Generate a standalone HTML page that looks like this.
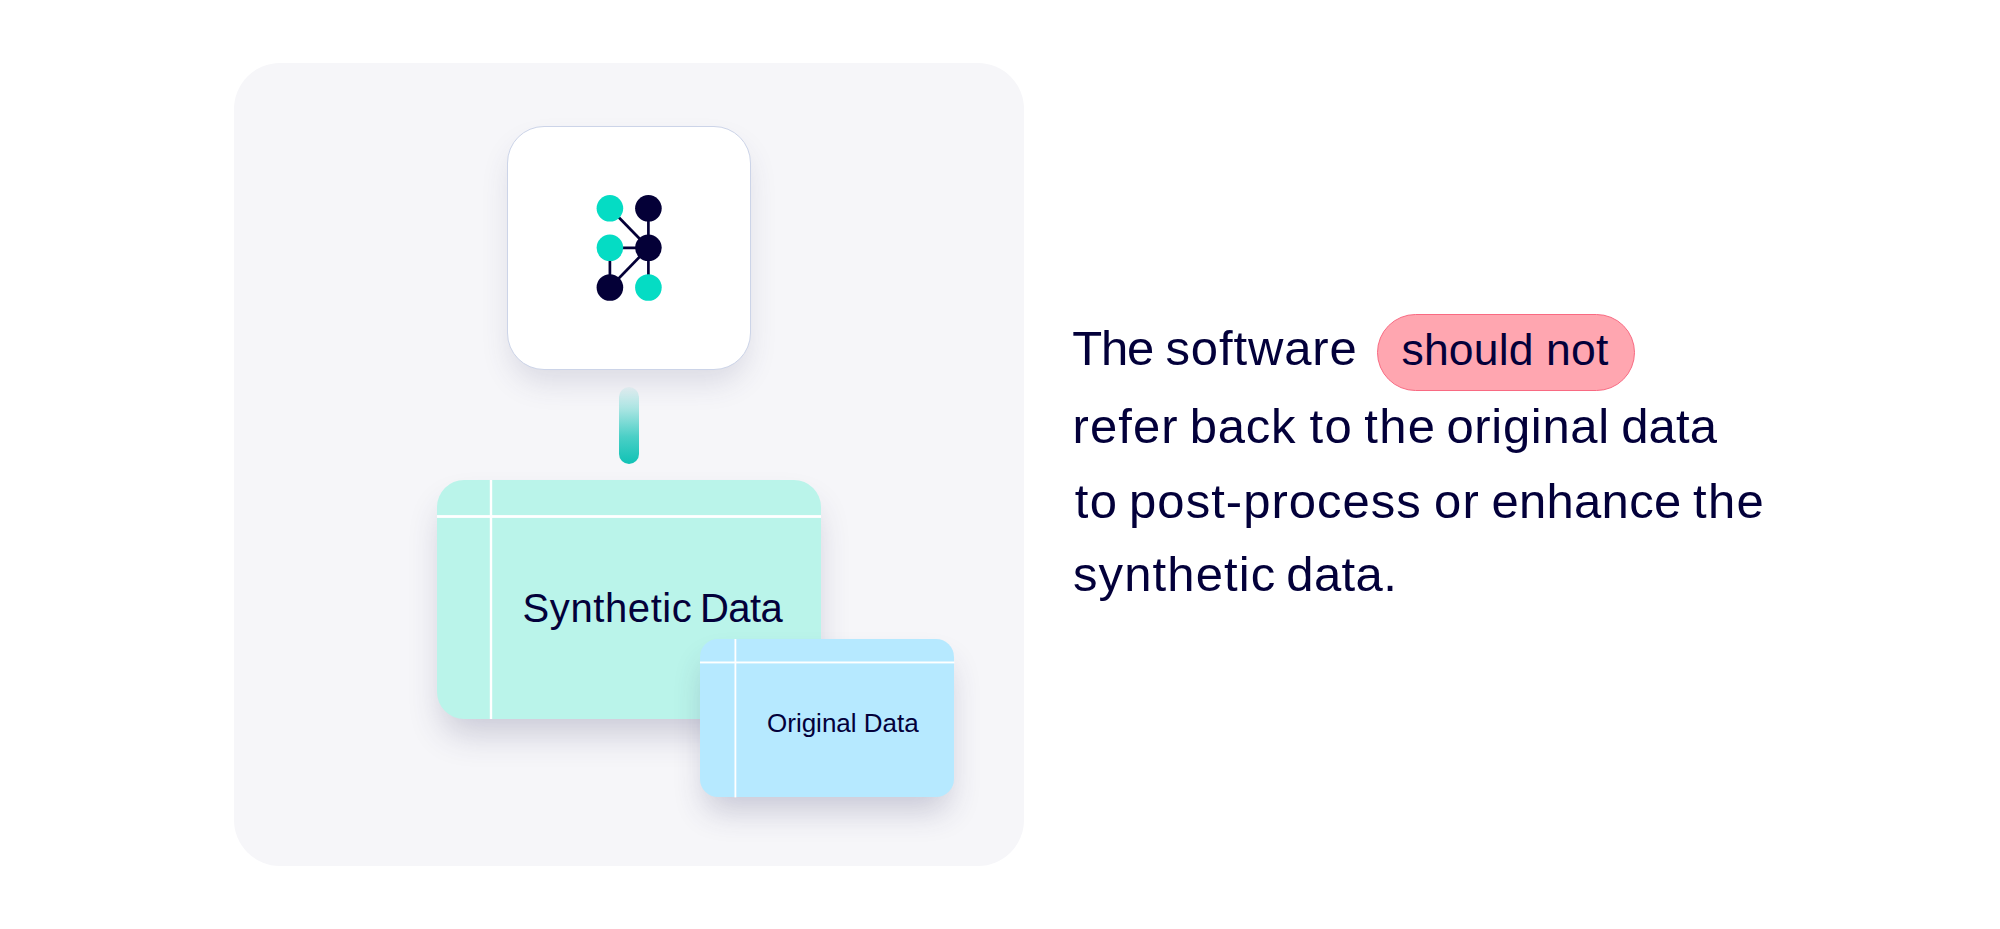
<!DOCTYPE html>
<html lang="en">
<head>
<meta charset="utf-8">
<title>Synthetic data principle</title>
<style>
  html, body { margin: 0; padding: 0; }
  body {
    width: 2000px; height: 929px; overflow: hidden; position: relative;
    background: #ffffff;
    font-family: "Liberation Sans", Arial, sans-serif;
    color: #03003a;
  }
  .panel {
    position: absolute; left: 234px; top: 63px; width: 790px; height: 803px;
    border-radius: 46px; background: #f6f6f9;
  }
  .app {
    position: absolute; left: 507px; top: 126px; width: 244px; height: 243.5px;
    box-sizing: border-box;
    border-radius: 37px; background: #ffffff; border: 1px solid #ccd4e8;
    box-shadow: 0 16px 30px -4px rgba(60, 60, 110, 0.15);
  }
  .app svg { position: absolute; left: -1px; top: -1px; }
  .pipe {
    position: absolute; left: 619px; top: 387px; width: 20px; height: 77px;
    border-radius: 10px;
    background: linear-gradient(to bottom, rgba(16,194,181,0.06) 0%, rgba(16,194,181,0.35) 30%, rgba(16,194,181,0.75) 65%, #10c2b5 100%);
  }
  .card { position: absolute; box-sizing: border-box; }
  .card .grid { position: absolute; left: 0; top: 0; }
  .synthetic {
    left: 437px; top: 480px; width: 384px; height: 239px;
    border-radius: 27px; background: #baf4ea;
    box-shadow: 0 20px 34px -6px rgba(50, 50, 100, 0.23);
  }
  .synthetic .label {
    position: absolute; left: 85.5px; top: 104.5px; white-space: nowrap;
    font-size: 40px; line-height: 46px; word-spacing: -3.6px;
  }
  .original {
    left: 700px; top: 639px; width: 254.4px; height: 158.2px;
    border-radius: 18px; background: #b6e9ff;
    box-shadow: 0 19px 32px -6px rgba(50, 50, 100, 0.24);
  }
  .original .label {
    position: absolute; left: 67px; top: 69px; white-space: nowrap;
    font-size: 26px; line-height: 30px;
  }
  .copy { position: absolute; left: 1073px; top: 0; margin: 0; font-size: 49px; }
  .copy .ln { position: absolute; left: 0; white-space: nowrap; line-height: 60px; height: 60px; width: 720px; }
  .copy .w { position: absolute; top: 0; white-space: nowrap; }
  .pill {
    position: absolute; left: 1377px; top: 313.5px; width: 258px; height: 77.5px;
    box-sizing: border-box; border-radius: 40px;
    background: #ffa6b0; border: 1px solid #f86a82;
    text-align: center; white-space: nowrap;
    font-size: 44.5px; line-height: 70px; letter-spacing: 0.15px; padding-right: 2px;
  }
</style>
</head>
<body>
  <div class="panel"></div>

  <div class="app">
    <svg width="243" height="243" viewBox="0 0 243 243">
      <g stroke="#040037" stroke-width="2.7" stroke-linecap="butt" fill="none">
        <line x1="102.9" y1="82.3" x2="141.4" y2="121.8"/>
        <line x1="141.4" y1="82.3" x2="141.4" y2="161.5"/>
        <line x1="102.9" y1="121.8" x2="141.4" y2="121.8"/>
        <line x1="102.9" y1="121.8" x2="102.9" y2="161.5"/>
        <line x1="102.9" y1="161.5" x2="141.4" y2="121.8"/>
      </g>
      <circle cx="102.9" cy="82.3" r="13.3" fill="#05dcc4"/>
      <circle cx="102.9" cy="121.8" r="13.3" fill="#05dcc4"/>
      <circle cx="141.4" cy="161.5" r="13.3" fill="#05dcc4"/>
      <circle cx="141.4" cy="82.3" r="13.3" fill="#040037"/>
      <circle cx="141.4" cy="121.8" r="13.3" fill="#040037"/>
      <circle cx="102.9" cy="161.5" r="13.3" fill="#040037"/>
    </svg>
  </div>

  <div class="pipe"></div>

  <div class="card synthetic">
    <svg class="grid" width="384" height="239" viewBox="0 0 384 239">
      <rect x="52.8" y="0" width="2.4" height="239" fill="#ffffff"/>
      <rect x="0" y="35.1" width="384" height="2.8" fill="#ffffff"/>
    </svg>
    <div class="label"><span style="letter-spacing:0.6px">Synthetic</span> <span style="letter-spacing:-0.6px">Data</span></div>
  </div>

  <div class="card original">
    <svg class="grid" width="255" height="159" viewBox="0 0 255 159">
      <rect x="34.5" y="0" width="1.8" height="158.4" fill="#ffffff"/>
      <rect x="0" y="22.5" width="254.4" height="1.9" fill="#ffffff"/>
    </svg>
    <div class="label">Original Data</div>
  </div>

  <p class="copy">
    <span class="ln" style="top:318px"><span class="w" style="left:-0.70px;letter-spacing:-1.20px">The</span> <span class="w" style="left:92.50px;letter-spacing:0.86px">software</span></span>
    <span class="ln" style="top:395.5px"><span class="w" style="left:-0.40px;letter-spacing:1.05px">refer</span> <span class="w" style="left:116.70px;letter-spacing:0.80px">back</span> <span class="w" style="left:236.60px;letter-spacing:1.30px">to</span> <span class="w" style="left:291.30px;letter-spacing:1.30px">the</span> <span class="w" style="left:373.40px;letter-spacing:0.69px">original</span> <span class="w" style="left:548.20px;letter-spacing:0.13px">data</span></span>
    <span class="ln" style="top:470.5px"><span class="w" style="left:1.75px;letter-spacing:1.30px">to</span> <span class="w" style="left:56.10px;letter-spacing:1.02px">post-process</span> <span class="w" style="left:360.90px;letter-spacing:1.30px">or</span> <span class="w" style="left:418.40px;letter-spacing:0.30px">enhance</span> <span class="w" style="left:620.10px;letter-spacing:1.30px">the</span></span>
    <span class="ln" style="top:544px"><span class="w" style="left:-0.00px;letter-spacing:1.12px">synthetic</span> <span class="w" style="left:213.30px;letter-spacing:0.40px">data.</span></span>
  </p>
  <div class="pill">should not</div>
</body>
</html>
